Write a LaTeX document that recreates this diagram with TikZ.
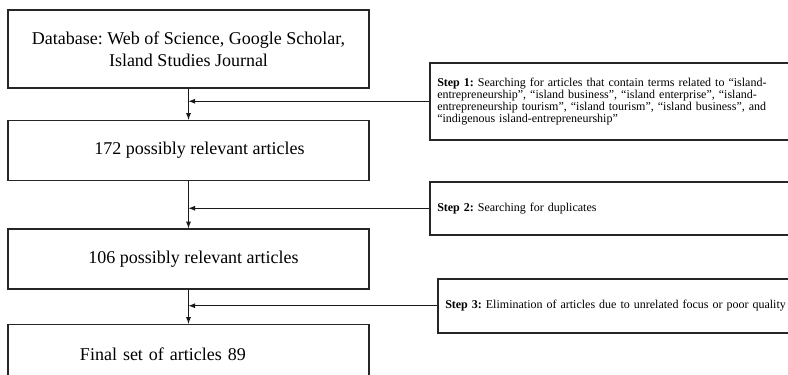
\documentclass[tikz,border=0pt]{standalone}
\usepackage{fontspec}
\setmainfont{Liberation Serif}
\usetikzlibrary{arrows}
\usetikzlibrary{positioning}

\begin{document}
\frenchspacing
\begin{tikzpicture}[x=1pt,y=1pt,>=latex]
	\tikzstyle{stage}=[draw=black!85, line width=1.5pt, minimum width=361pt, minimum height=60pt, inner sep=0pt, align=center, font=\fontsize{18}{22}\selectfont]
	\tikzstyle{stepbox}=[draw=black!85, line width=1.5pt, anchor=north west, text width=350pt, inner xsep=7.5pt, inner ysep=0pt, align=left, font=\fontsize{12}{11.9}\selectfont]
	\tikzstyle{link}=[->, line width=1.3pt, black!90]
	\useasboundingbox (0,0) rectangle (788,-375);

	% main stages
	\node[stage, minimum height=78pt] (db) at (188.5,-49) {Database: Web of Science, Google Scholar,\\Island Studies Journal};
	\node[stage] (n172) [below=31pt of db] {\hspace*{22pt}172 possibly relevant articles};
	\node[stage] (n106) [below=47pt of n172] {\hspace*{10pt}106 possibly relevant articles};
	\node[stage, text width=361pt, align=left] (n89) [below=34pt of n106] {\hspace*{72pt}Final set of articles 89};

	% steps
	\node[stepbox, minimum height=77pt] (s1) at (429,-62) {\textbf{Step 1:} Searching for articles that contain terms related to “island-\\entrepreneurship”, “island business”, “island enterprise”, “island-\\entrepreneurship tourism”, “island tourism”, “island business”, and\\“indigenous island-entrepreneurship”};
	\node[stepbox, minimum height=53pt] (s2) at (429,-181) {\textbf{Step 2:} Searching for duplicates};
	\node[stepbox, minimum height=54pt] (s3) at (437,-278) {\textbf{Step 3:} Elimination of articles due to unrelated focus or poor quality};

	\draw[link] (db) -- (n172);
	\draw[link] (n172) -- (n106);
	\draw[link] (n106) -- (n89);

	\foreach \s in {s1,s2,s3}{
		\draw[link] (\s.west) -- (\s.west -| db.south);
	}
\end{tikzpicture}
\end{document}
